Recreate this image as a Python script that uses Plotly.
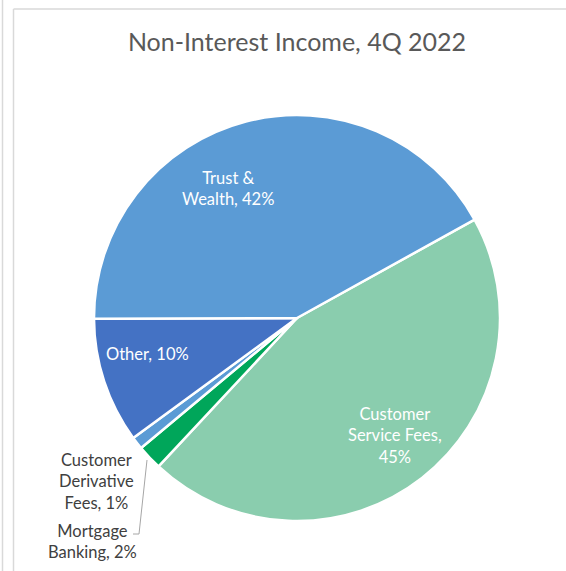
import plotly.graph_objects as go

# ---- data ----
categories = ["Customer Service Fees", "Mortgage Banking", "Customer Derivative Fees", "Other", "Trust & Wealth"]
values = [45, 2, 1, 10, 42]
colors = ["#8ACDAE", "#00A65A", "#5B9BD5", "#4472C4", "#5B9BD5"]
label_texts = ["Customer<br>Service Fees,<br>45%", "Mortgage<br>Banking, 2%",
               "Customer<br>Derivative<br>Fees, 1%", "Other, 10%", "Trust &<br>Wealth, 42%"]
title_text = "Non-Interest Income, 4Q 2022"

W, H = 566, 571
cx, cy, R = 297, 318, 203

fig = go.Figure(go.Pie(
    labels=categories,
    values=values,
    sort=False,
    direction="clockwise",
    rotation=61,
    marker=dict(colors=colors, line=dict(color="white", width=2.5)),
    textinfo="none",
    hoverinfo="label+percent",
    showlegend=False,
    domain=dict(x=[(cx - R) / W, (cx + R) / W], y=[1 - (cy + R) / H, 1 - (cy - R) / H]),
))

FONT = "Lato, Noto Sans, sans-serif"

# label placement (pixel centres)
label_pos = {
    "Customer Service Fees": (395, 435, "white"),
    "Mortgage Banking": (92, 541, "#404040"),
    "Customer Derivative Fees": (96, 481, "#404040"),
    "Other": (147, 354, "white"),
    "Trust & Wealth": (228, 189, "white"),
}
annotations = []
for cat, txt in zip(categories, label_texts):
    px, py, col = label_pos[cat]
    annotations.append(dict(
        x=px / W, y=1 - py / H, xref="paper", yref="paper",
        text=txt, showarrow=False, align="center",
        xanchor="center", yanchor="middle",
        font=dict(family=FONT, size=16.5, color=col),
    ))

shapes = [
    # outer page line
    dict(type="line", xref="paper", yref="paper", x0=2.5 / W, x1=2.5 / W, y0=0, y1=1,
         line=dict(color="#D9D9D9", width=1.5)),
    # chart area border
    dict(type="line", xref="paper", yref="paper", x0=13.5 / W, x1=13.5 / W, y0=0, y1=1 - 9 / H,
         line=dict(color="#D9D9D9", width=1.5)),
    dict(type="line", xref="paper", yref="paper", x0=13.5 / W, x1=1, y0=1 - 9 / H, y1=1 - 9 / H,
         line=dict(color="#D9D9D9", width=1.5)),
    # leader line for Mortgage Banking
    dict(type="path", xref="paper", yref="paper",
         path=f"M {147/W},{1-460/H} L {139/W},{1-534/H} L {133/W},{1-534/H}",
         line=dict(color="#A6A6A6", width=1)),
]

fig.update_layout(
    width=W, height=H,
    margin=dict(l=0, r=0, t=0, b=0),
    paper_bgcolor="white",
    title=dict(text=title_text, x=297 / W, xanchor="center", y=1 - 42 / H, yanchor="middle",
               font=dict(family=FONT, size=25, color="#595959")),
    annotations=annotations,
    shapes=shapes,
)

fig.write_html("out.html",
               config={"displayModeBar": False},
               post_script="document.body.style.margin='0';document.body.style.overflow='hidden';")
